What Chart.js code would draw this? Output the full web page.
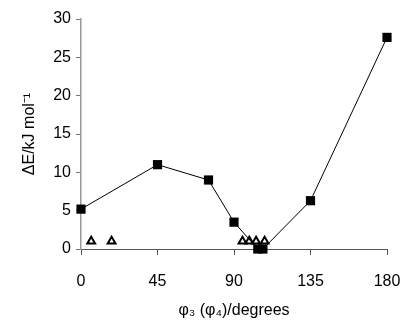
<!DOCTYPE html>
<html>
<head>
<meta charset="utf-8">
<script src="https://cdn.jsdelivr.net/npm/chart.js@4/dist/chart.umd.min.js"></script>
<style>
  html, body { margin: 0; padding: 0; background: #fff; }
  #wrap { width: 407px; height: 322px; }
</style>
</head>
<body>
<div id="wrap"><canvas id="chart"></canvas></div>
<script>
// data
var squareAngles = [0, 45, 75, 90, 104, 107, 135, 180];
var squareEnergy = [5.2, 11.0, 9.0, 3.5, 0, 0, 6.3, 27.6];
var triangleAngles = [6, 18, 95, 99, 103, 108];
var triangleEnergy = [1, 1, 1, 1, 1, 1];
var xTicks = [0, 45, 90, 135, 180];
var yTicks = [0, 5, 10, 15, 20, 25, 30];

function toPoints(xs, ys) {
    return xs.map(function(x, i) { return {x: x, y: ys[i]}; });
}

Chart.defaults.font.family = "'Liberation Sans', Arial, sans-serif";
Chart.defaults.color = '#000';

var ctx = document.getElementById('chart').getContext('2d');
window.myChart = new Chart(ctx, {
    type: 'scatter',
    data: {
        datasets: [
        {
            label: 'squares',
            data: toPoints(squareAngles, squareEnergy),
            showLine: true,
            clip: false,
            borderColor: '#000',
            borderWidth: 1,
            pointStyle: 'rect',
            pointRadius: 6.5,
            backgroundColor: '#000',
            pointBackgroundColor: '#000',
            pointBorderWidth: 0
        },
        {
            label: 'triangles',
            data: toPoints(triangleAngles, triangleEnergy),
            showLine: false,
            clip: false,
            pointStyle: 'triangle',
            pointRadius: 4.5,
            pointBackgroundColor: '#fff',
            pointBorderColor: '#000',
            pointBorderWidth: 2
        }]
    },
    options: {
        responsive: true,
        maintainAspectRatio: false,
        animation: false,
        layout: {
            padding: {top: 19, right: 4, bottom: 0, left: 20}
        },
        plugins: {
            legend: { display: false },
            tooltip: { enabled: false }
        },
        scales: {
            x: {
                type: 'linear',
                min: 0,
                max: 180,
                afterBuildTicks: function(scale) {
                    scale.ticks = xTicks.map(function(v) { return {value: v}; });
                },
                afterFit: function(scale) {
                    scale.height = 73;
                    // tick padding is only meant to push labels down
                    scale.paddingLeft = 5;
                    scale.paddingRight = 20;
                },
                grid: {
                    drawOnChartArea: false,
                    drawTicks: true,
                    tickLength: 6,
                    color: '#555'
                },
                border: { color: '#555', dash: [2, 1], width: 1 },
                ticks: { font: {size: 16}, padding: 17 },
                title: {
                    display: true,
                    text: 'φ₃ (φ₄)/degrees',
                    font: {size: 16},
                    padding: {top: 4, bottom: 2}
                }
            },
            y: {
                min: 0,
                max: 30,
                afterBuildTicks: function(scale) {
                    scale.ticks = yTicks.map(function(v) { return {value: v}; });
                },
                afterFit: function(scale) { scale.width = 61; },
                grid: {
                    drawOnChartArea: false,
                    drawTicks: true,
                    tickLength: 5,
                    color: '#777'
                },
                border: { color: '#999', width: 1.5 },
                ticks: { font: {size: 16}, padding: 5 },
                title: {
                    display: true,
                    text: 'ΔE/kJ mol⁻¹',
                    font: {size: 16},
                    padding: {top: 0, bottom: 6}
                }
            }
        }
    }
});
</script>
</body>
</html>
